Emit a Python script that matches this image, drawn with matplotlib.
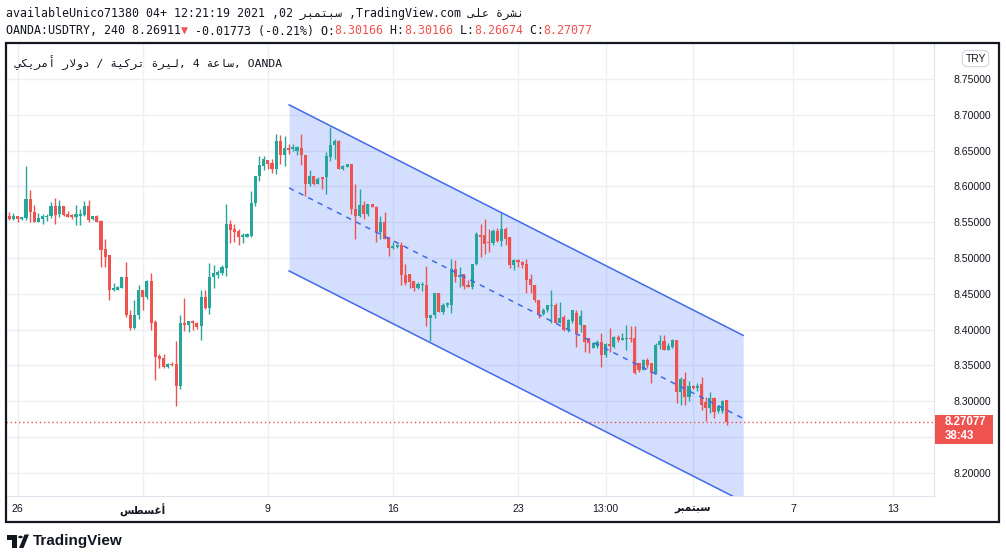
import numpy as np
import matplotlib
matplotlib.use('Agg')
import matplotlib.pyplot as plt
from matplotlib import font_manager
from matplotlib.patches import Rectangle, Circle, Polygon
from matplotlib.transforms import IdentityTransform


### DATA ###

# 4h candles, OANDA:USDTRY
opens = [8.559, 8.554, 8.559, 8.555, 8.556, 8.583, 8.564, 8.551, 8.555, 8.557,
         8.559, 8.573, 8.561, 8.573, 8.562, 8.560, 8.557, 8.559, 8.560, 8.573,
         8.554, 8.559, 8.552, 8.512, 8.504, 8.455, 8.456, 8.458, 8.474, 8.420,
         8.403, 8.420, 8.455, 8.445, 8.468, 8.411, 8.363, 8.360, 8.348, 8.352,
         8.352, 8.322, 8.409, 8.406, 8.412, 8.410, 8.405, 8.446, 8.430, 8.474,
         8.477, 8.479, 8.486, 8.547, 8.540, 8.538, 8.529, 8.530, 8.531, 8.577,
         8.614, 8.629, 8.637, 8.633, 8.624, 8.663, 8.644, 8.654, 8.652, 8.650,
         8.654, 8.644, 8.603, 8.614, 8.604, 8.613, 8.613, 8.641, 8.658, 8.663,
         8.624, 8.627, 8.631, 8.569, 8.559, 8.574, 8.561, 8.576, 8.572, 8.537,
         8.551, 8.529, 8.514, 8.516, 8.518, 8.476, 8.478, 8.468, 8.458, 8.462,
         8.463, 8.416, 8.420, 8.451, 8.425, 8.434, 8.435, 8.485, 8.474, 8.478,
         8.462, 8.459, 8.492, 8.532, 8.532, 8.522, 8.521, 8.538, 8.524, 8.540,
         8.529, 8.490, 8.497, 8.495, 8.492, 8.471, 8.463, 8.442, 8.422, 8.428,
         8.433, 8.434, 8.410, 8.418, 8.399, 8.412, 8.423, 8.407, 8.407, 8.388,
         8.375, 8.377, 8.383, 8.364, 8.380, 8.376, 8.390, 8.386, 8.387, 8.389,
         8.389, 8.353, 8.343, 8.357, 8.353, 8.339, 8.379, 8.384, 8.372, 8.376,
         8.386, 8.313, 8.331, 8.306, 8.321, 8.319, 8.324, 8.299, 8.291, 8.305,
         8.286, 8.286, 8.30166]
highs = [8.564, 8.563, 8.559, 8.558, 8.629, 8.595, 8.574, 8.563, 8.562, 8.562,
         8.579, 8.584, 8.581, 8.573, 8.566, 8.562, 8.574, 8.568, 8.580, 8.581,
         8.559, 8.560, 8.553, 8.526, 8.505, 8.465, 8.461, 8.474, 8.494, 8.428,
         8.441, 8.462, 8.455, 8.469, 8.479, 8.413, 8.366, 8.366, 8.354, 8.355,
         8.384, 8.421, 8.444, 8.412, 8.414, 8.411, 8.456, 8.456, 8.493, 8.491,
         8.484, 8.490, 8.576, 8.553, 8.547, 8.541, 8.535, 8.535, 8.593, 8.615,
         8.643, 8.643, 8.637, 8.638, 8.673, 8.672, 8.670, 8.659, 8.659, 8.657,
         8.673, 8.644, 8.623, 8.615, 8.613, 8.613, 8.648, 8.683, 8.667, 8.665,
         8.630, 8.631, 8.631, 8.603, 8.596, 8.580, 8.576, 8.576, 8.573, 8.559,
         8.564, 8.529, 8.523, 8.520, 8.522, 8.492, 8.478, 8.468, 8.466, 8.466,
         8.489, 8.421, 8.451, 8.451, 8.437, 8.438, 8.499, 8.497, 8.487, 8.478,
         8.469, 8.492, 8.536, 8.548, 8.554, 8.541, 8.540, 8.542, 8.563, 8.543,
         8.530, 8.499, 8.499, 8.496, 8.499, 8.478, 8.463, 8.442, 8.430, 8.435,
         8.456, 8.437, 8.438, 8.420, 8.415, 8.428, 8.427, 8.427, 8.407, 8.388,
         8.383, 8.385, 8.395, 8.381, 8.402, 8.391, 8.393, 8.395, 8.406, 8.405,
         8.405, 8.353, 8.359, 8.360, 8.353, 8.382, 8.393, 8.393, 8.381, 8.387,
         8.386, 8.334, 8.341, 8.329, 8.323, 8.325, 8.334, 8.306, 8.313, 8.306,
         8.295, 8.302, 8.30166]
lows = [8.553, 8.553, 8.551, 8.553, 8.553, 8.551, 8.550, 8.550, 8.547, 8.552,
        8.556, 8.548, 8.557, 8.559, 8.558, 8.555, 8.546, 8.546, 8.559, 8.551,
        8.553, 8.550, 8.487, 8.487, 8.442, 8.454, 8.455, 8.458, 8.418, 8.400,
        8.401, 8.415, 8.427, 8.443, 8.400, 8.330, 8.347, 8.347, 8.347, 8.349,
        8.293, 8.317, 8.398, 8.397, 8.400, 8.401, 8.385, 8.429, 8.422, 8.458,
        8.472, 8.476, 8.475, 8.521, 8.523, 8.518, 8.521, 8.529, 8.530, 8.573,
        8.608, 8.623, 8.624, 8.619, 8.618, 8.632, 8.628, 8.646, 8.649, 8.644,
        8.630, 8.587, 8.600, 8.602, 8.603, 8.596, 8.589, 8.635, 8.638, 8.624,
        8.623, 8.627, 8.561, 8.527, 8.558, 8.555, 8.559, 8.571, 8.522, 8.527,
        8.526, 8.503, 8.512, 8.514, 8.462, 8.462, 8.458, 8.454, 8.457, 8.454,
        8.405, 8.384, 8.417, 8.424, 8.422, 8.431, 8.423, 8.467, 8.460, 8.457,
        8.459, 8.457, 8.491, 8.501, 8.506, 8.508, 8.518, 8.522, 8.517, 8.518,
        8.486, 8.483, 8.487, 8.486, 8.451, 8.451, 8.438, 8.417, 8.420, 8.425,
        8.410, 8.409, 8.409, 8.398, 8.397, 8.410, 8.376, 8.397, 8.369, 8.368,
        8.374, 8.375, 8.348, 8.362, 8.369, 8.375, 8.383, 8.386, 8.372, 8.383,
        8.338, 8.341, 8.343, 8.347, 8.325, 8.338, 8.373, 8.371, 8.371, 8.374,
        8.297, 8.295, 8.295, 8.301, 8.317, 8.315, 8.288, 8.272, 8.283, 8.276,
        8.284, 8.284, 8.26674]
closes = [8.554, 8.559, 8.555, 8.557, 8.583, 8.564, 8.551, 8.556, 8.559, 8.559,
          8.573, 8.560, 8.573, 8.560, 8.558, 8.557, 8.561, 8.562, 8.573, 8.553,
          8.559, 8.551, 8.511, 8.502, 8.456, 8.458, 8.459, 8.474, 8.420, 8.403,
          8.420, 8.455, 8.445, 8.468, 8.410, 8.362, 8.359, 8.348, 8.352, 8.350,
          8.322, 8.409, 8.406, 8.412, 8.409, 8.404, 8.446, 8.430, 8.474, 8.479,
          8.480, 8.487, 8.547, 8.539, 8.537, 8.529, 8.532, 8.533, 8.577, 8.615,
          8.630, 8.638, 8.632, 8.624, 8.663, 8.644, 8.654, 8.651, 8.655, 8.655,
          8.644, 8.603, 8.614, 8.603, 8.610, 8.610, 8.642, 8.658, 8.663, 8.624,
          8.629, 8.631, 8.568, 8.559, 8.574, 8.561, 8.576, 8.571, 8.537, 8.551,
          8.527, 8.514, 8.517, 8.518, 8.476, 8.465, 8.466, 8.458, 8.464, 8.464,
          8.417, 8.421, 8.451, 8.425, 8.435, 8.437, 8.485, 8.474, 8.477, 8.461,
          8.460, 8.492, 8.534, 8.529, 8.520, 8.521, 8.538, 8.524, 8.540, 8.526,
          8.490, 8.497, 8.494, 8.490, 8.470, 8.463, 8.441, 8.422, 8.428, 8.434,
          8.435, 8.410, 8.416, 8.399, 8.413, 8.428, 8.395, 8.419, 8.383, 8.381,
          8.381, 8.383, 8.365, 8.380, 8.377, 8.390, 8.385, 8.389, 8.388, 8.387,
          8.339, 8.344, 8.358, 8.351, 8.339, 8.379, 8.384, 8.372, 8.377, 8.386,
          8.313, 8.331, 8.306, 8.321, 8.318, 8.322, 8.295, 8.291, 8.305, 8.285,
          8.293, 8.300, 8.27077]

# parallel channel drawing (bar index, price)
chan_x = [67.1, 176.0]
chan_upper = [8.714, 8.392]
chan_mid = [8.598, 8.276]
chan_lower = [8.482, 8.160]

price_ticks = [8.20, 8.25, 8.30, 8.35, 8.40, 8.45, 8.50, 8.55, 8.60, 8.65, 8.70, 8.75]
hidden_tick = 8.25   # covered by the last-price tag
time_pos = [2, 32, 62, 92, 122, 143, 164, 188, 212]
time_labels = ['26', 'أغسطس', '9', '16', '23', '13:00', 'سبتمبر', '7', '13']

header1 = ['availableUnico71380 04+ 12:21:19 2021 ,02 ', 'سبتمبر', ' ,TradingView.com ', 'نشرة على']
header2 = [('OANDA:USDTRY, 240 8.26911', 'dark'), ('▼', 'red'), (' -0.01773 (-0.21%) O:', 'dark'),
           ('8.30166', 'red'), (' H:', 'dark'), ('8.30166', 'red'), (' L:', 'dark'),
           ('8.26674', 'red'), (' C:', 'dark'), ('8.27077', 'red')]
legend_parts = ['دولار أمريكي', ' / ', 'ليرة تركية', ', 4 ', 'ساعة', ', OANDA']
countdown = '38:43'


### ARABIC SHAPING (matplotlib has no bidi / shaping) ###

AR_FORMS = {  # isolated, final, initial, medial
    'ا': ('\ufe8d', '\ufe8e', None, None),
    'أ': ('\ufe83', '\ufe84', None, None),
    'ب': ('\ufe8f', '\ufe90', '\ufe91', '\ufe92'),
    'ة': ('\ufe93', '\ufe94', None, None),
    'ت': ('\ufe95', '\ufe96', '\ufe97', '\ufe98'),
    'د': ('\ufea9', '\ufeaa', None, None),
    'ر': ('\ufead', '\ufeae', None, None),
    'س': ('\ufeb1', '\ufeb2', '\ufeb3', '\ufeb4'),
    'ش': ('\ufeb5', '\ufeb6', '\ufeb7', '\ufeb8'),
    'ط': ('\ufec1', '\ufec2', '\ufec3', '\ufec4'),
    'ع': ('\ufec9', '\ufeca', '\ufecb', '\ufecc'),
    'غ': ('\ufecd', '\ufece', '\ufecf', '\ufed0'),
    'ك': ('\ufed9', '\ufeda', '\ufedb', '\ufedc'),
    'ل': ('\ufedd', '\ufede', '\ufedf', '\ufee0'),
    'م': ('\ufee1', '\ufee2', '\ufee3', '\ufee4'),
    'ن': ('\ufee5', '\ufee6', '\ufee7', '\ufee8'),
    'و': ('\ufeed', '\ufeee', None, None),
    'ى': ('\ufeef', '\ufef0', None, None),
    'ي': ('\ufef1', '\ufef2', '\ufef3', '\ufef4'),
}
LAM_ALEF = {'ا': ('\ufefb', '\ufefc'), 'أ': ('\ufef7', '\ufef8')}


def is_arabic(s):
    return any(c in AR_FORMS for c in s)


def ar(text):
    if not is_arabic(text):
        return text
    out = []
    i = 0
    while i < len(text):
        ch = text[i]
        if ch not in AR_FORMS:
            out.append(ch)
            i += 1
            continue
        prev = text[i - 1] if i > 0 else ''
        joins_prev = prev in AR_FORMS and AR_FORMS[prev][2] is not None
        if ch == 'ل' and i + 1 < len(text) and text[i + 1] in LAM_ALEF:
            out.append(LAM_ALEF[text[i + 1]][1 if joins_prev else 0])
            i += 2
            continue
        nxt = text[i + 1] if i + 1 < len(text) else ''
        joins_next = AR_FORMS[ch][2] is not None and nxt in AR_FORMS
        iso, fin, ini, med = AR_FORMS[ch]
        if joins_prev and joins_next:
            out.append(med)
        elif joins_prev:
            out.append(fin)
        elif joins_next:
            out.append(ini)
        else:
            out.append(iso)
        i += 1
    return ''.join(reversed(out))


### PLOTTING ###

W, H = 1006, 560
UP, DOWN, DARK = '#26a69a', '#ef5350', '#131722'
names = {f.name for f in font_manager.fontManager.ttflist}
if 'Liberation Sans Narrow' in names:
    axis_font, axis_fs = 'Liberation Sans Narrow', 8.6
else:
    axis_font, axis_fs = 'Liberation Sans', 7.6
mono = ['DejaVu Sans Mono', 'DejaVu Sans']

fig = plt.figure(figsize=(W / 100, H / 100), dpi=100)
fig.patch.set_facecolor('white')

# outer frame of the chart widget
fig.patches.append(Rectangle((6 / W, 1 - 522 / H), 993 / W, 479 / H, transform=fig.transFigure,
                             fill=False, ec='#131722', lw=1.6, zorder=0))

ax = fig.add_axes([6 / W, 1 - 496 / H, 928 / W, 453 / H])
ax.set_facecolor('none')
ax.set_xlim(-0.79, 221.75)
ax.set_ylim(8.1677, 8.8004)

x = np.arange(len(closes))
o, h, l, c = map(np.array, (opens, highs, lows, closes))
colors = np.where(c >= o, UP, DOWN)
body_lo = np.minimum(o, c)
body_h = np.maximum(np.abs(c - o), 0.0008)

ax.fill_between(chan_x, chan_lower, chan_upper, color='#2962ff', alpha=0.2, lw=0, zorder=1)
ax.vlines(x, l, h, colors=colors, lw=1, zorder=3)
ax.bar(x, body_h, bottom=body_lo, width=0.74, color=colors, lw=0, zorder=3)
ax.plot(chan_x, chan_upper, color='#4169e8', lw=1.1, zorder=4)
ax.plot(chan_x, chan_lower, color='#4169e8', lw=1.1, zorder=4)
ax.plot(chan_x, chan_mid, color='#4169e8', lw=1.1, ls=(0, (3.5, 3.5)), zorder=4)
ax.axhline(closes[-1], color=DOWN, lw=1, ls=(0, (1, 2)), zorder=2)

# grid + axes
ax.grid(True, color='#eceff4', lw=1, zorder=0)
ax.set_axisbelow(True)
for side in ['top', 'left']:
    ax.spines[side].set_visible(False)
ax.spines['right'].set_color('#e0e3eb')
ax.spines['bottom'].set_color('#e0e3eb')

ax.yaxis.tick_right()
ax.set_yticks(price_ticks)
ax.set_yticklabels(['' if abs(p - hidden_tick) < 1e-9 else f'{p:.5f}' for p in price_ticks])
ax.tick_params(axis='y', length=0, pad=27.5, labelsize=axis_fs, labelcolor=DARK)
for lbl in ax.get_yticklabels():
    lbl.set_horizontalalignment('center')
    lbl.set_fontfamily([axis_font, 'DejaVu Sans'])

ax.set_xticks(time_pos)
ax.set_xticklabels([ar(t) for t in time_labels])
ax.tick_params(axis='x', length=0, pad=5.5, labelsize=axis_fs, labelcolor=DARK)
for lbl, t in zip(ax.get_xticklabels(), time_labels):
    lbl.set_fontfamily([axis_font, 'DejaVu Sans'])
    if is_arabic(t):
        lbl.set_fontweight('bold')

# last price tag on the price scale
_, y_last = ax.transData.transform((0, closes[-1]))
x_axis_right = (6 + 928)
fig.patches.append(Rectangle((x_axis_right + 1, y_last - 22), 58, 29, transform=IdentityTransform(),
                             fc=DOWN, ec='none', zorder=5))
fig.text((x_axis_right + 11) / W, y_last / H, f'{closes[-1]:.5f}', ha='left', va='center',
         fontsize=8.3, fontweight='bold', color='white', family='Liberation Sans', zorder=6)
fig.text((x_axis_right + 11) / W, (y_last - 14) / H, countdown, ha='left', va='center',
         fontsize=8.3, fontweight='bold', color='white', family='Liberation Sans', zorder=6)

# currency badge
fig.text(975.5 / W, 1 - 58.5 / H, 'TRY', ha='center', va='center', fontsize=7.4,
         family=axis_font, color=DARK,
         bbox=dict(boxstyle='round,pad=0.3,rounding_size=0.5', fc='white', ec='#d1d4dc', lw=0.8))

# symbol legend inside the chart
legend_text = ''.join(ar(p) for p in legend_parts)
fig.text(15 / W, 1 - 63 / H, legend_text, ha='left', va='center', fontsize=8.2, family=mono, color=DARK)

# header lines
fs_head = 8.35
fig.text(6 / W, 1 - 13 / H, ''.join(ar(p) for p in header1), ha='left', va='center',
         fontsize=fs_head, family=mono, color=DARK)
adv = 0.602 * fs_head * 100 / 72
pos = 0
for txt, col in header2:
    fig.text((6 + pos * adv) / W, 1 - 31 / H, txt, ha='left', va='center', fontsize=fs_head,
             family=mono, color=DOWN if col == 'red' else DARK)
    pos += len(txt)

# TradingView logo
fig.patches.append(Rectangle((7 / W, 1 - 539.5 / H), 10 / W, 4.5 / H, transform=fig.transFigure, fc=DARK, ec='none'))
fig.patches.append(Rectangle((11.5 / W, 1 - 548 / H), 5.5 / W, 10 / H, transform=fig.transFigure, fc=DARK, ec='none'))
fig.patches.append(Circle((20.5 / W, 1 - 537 / H), 2.3 / W, transform=fig.transFigure, fc=DARK, ec='none'))
fig.patches.append(Polygon([(19 / W, 1 - 548 / H), (24.5 / W, 1 - 534.5 / H), (29 / W, 1 - 534.5 / H),
                            (23.5 / W, 1 - 548 / H)], closed=True, transform=fig.transFigure, fc=DARK, ec='none'))
fig.text(33 / W, 1 - 541 / H, 'TradingView', ha='left', va='center', fontsize=11,
         fontweight='bold', family='Liberation Sans', color=DARK)

fig.savefig('out.png', dpi=100)
